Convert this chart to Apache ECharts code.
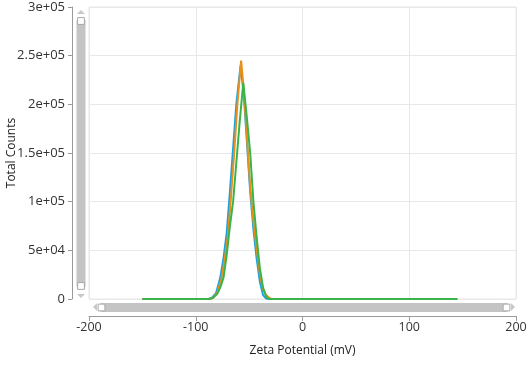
<!DOCTYPE html>
<html>
<head>
<meta charset="utf-8">
<script src="https://cdn.jsdelivr.net/npm/echarts@6/dist/echarts.min.js"></script>
<style>html,body{margin:0;padding:0;background:#fff;}#c{width:530px;height:369px;}</style>
</head>
<body>
<div id="c"></div>
<script>
// Zeta potential (mV) and total counts for three runs
const blueX  = [-150, -88, -85, -81, -77, -74, -71, -68, -65, -62, -58, -55, -52, -49, -46, -43, -40, -37, -34, -32, 145];
const blueY  = [0, 0, 1000, 6000, 22000, 42000, 68000, 110000, 155000, 200000, 240000, 210000, 160000, 110000, 72000, 42000, 18000, 4000, 500, 0, 0];
const orangeX = [-150, -88, -84, -80, -76, -73, -70, -67, -64, -61, -57.5, -55, -52, -49, -46, -43, -40, -37, -34, -31, -29, 145];
const orangeY = [0, 0, 1000, 6000, 20000, 40000, 64000, 105000, 150000, 200000, 245000, 215000, 165000, 115000, 80000, 52000, 26000, 10000, 4000, 1000, 0, 0];
const greenX = [-150, -88, -84, -80, -77, -74, -71, -68, -65, -62, -59, -55.5, -52, -49, -46, -43, -40, -37, -34, -31, 145];
const greenY = [0, 0, 1000, 5000, 12000, 22000, 45000, 75000, 100000, 140000, 180000, 222000, 185000, 150000, 100000, 64000, 32000, 12000, 2000, 0, 0];
const xTicks = [-200, -100, 0, 100, 200];
const yTicks = [0, 50000, 100000, 150000, 200000, 250000, 300000];

const pair = (xs, ys) => xs.map((x, i) => [x, ys[i]]);
function sci(v) {
  if (v === 0) return '0';
  const e = Math.floor(Math.log10(v));
  const m = +(v / Math.pow(10, e)).toFixed(2);
  return m + 'e+' + String(e).padStart(2, '0');
}
const FONT = '"Open Sans", "Noto Sans", sans-serif';
const chart = echarts.init(document.getElementById('c'));
const mk = (name, color, xs, ys) => ({
  name, type: 'line', data: pair(xs, ys), showSymbol: false, symbol: 'none',
  lineStyle: { color, width: 2 }, itemStyle: { color }, animation: false
});
chart.setOption({
  animation: false,
  grid: { left: 89, right: 14, top: 7, bottom: 70, show: true, borderColor: '#e6e6e6', borderWidth: 1,
          containLabel: false, outerBoundsMode: 'none' },
  xAxis: {
    type: 'value', min: xTicks[0], max: xTicks[xTicks.length - 1], interval: 100, offset: 17,
    name: 'Zeta Potential (mV)', nameLocation: 'middle', nameGap: 29, nameMoveOverlap: false,
    nameTextStyle: { color: '#222', fontSize: 12, fontFamily: FONT },
    axisLine: { show: true, onZero: false, lineStyle: { color: '#9a9a9a' } },
    axisTick: { show: true, length: 5, lineStyle: { color: '#9a9a9a' } },
    axisLabel: { color: '#333', fontSize: 12.5, fontFamily: FONT, margin: 5 },
    splitLine: { show: true, lineStyle: { color: '#e8e8e8' } }
  },
  yAxis: {
    type: 'value', min: yTicks[0], max: yTicks[yTicks.length - 1], interval: 50000, offset: 17,
    name: 'Total Counts', nameLocation: 'middle', nameGap: 54, nameRotate: 90, nameMoveOverlap: false,
    nameTextStyle: { color: '#222', fontSize: 12, fontFamily: FONT },
    axisLine: { show: true, onZero: false, lineStyle: { color: '#9a9a9a' } },
    axisTick: { show: true, length: 4, lineStyle: { color: '#9a9a9a' } },
    axisLabel: { color: '#333', fontSize: 13, fontFamily: FONT, margin: 7, formatter: sci },
    splitLine: { show: true, lineStyle: { color: '#e8e8e8' } }
  },
  dataZoom: [
    {
      type: 'slider', xAxisIndex: 0, filterMode: 'none', start: 0, end: 100,
      left: 99, right: 24, bottom: 57, height: 9,
      backgroundColor: 'transparent', borderColor: 'transparent', fillerColor: '#c4c4c4',
      showDataShadow: false, showDetail: false, brushSelect: false, moveHandleSize: 0,
      handleIcon: 'path://M0,0H10V10H0Z', handleSize: '75%',
      handleStyle: { color: '#fff', borderColor: '#a8a8a8', borderWidth: 1 }
    },
    {
      type: 'slider', yAxisIndex: 0, orient: 'vertical', filterMode: 'none', start: 0, end: 100,
      left: 76, width: 9, top: 20, bottom: 82,
      backgroundColor: 'transparent', borderColor: 'transparent', fillerColor: '#c4c4c4',
      showDataShadow: false, showDetail: false, brushSelect: false, moveHandleSize: 0,
      handleIcon: 'path://M0,0H10V10H0Z', handleSize: '75%',
      handleStyle: { color: '#fff', borderColor: '#a8a8a8', borderWidth: 1 }
    }
  ],
  graphic: [
    { type: 'polygon', shape: { points: [[97, 303], [97, 311], [93, 307]] }, style: { fill: '#c8c8c8' } },
    { type: 'polygon', shape: { points: [[511, 303], [511, 311], [515, 307]] }, style: { fill: '#c8c8c8' } },
    { type: 'polygon', shape: { points: [[77, 14], [85, 14], [81, 10]] }, style: { fill: '#c8c8c8' } },
    { type: 'polygon', shape: { points: [[77, 294], [85, 294], [81, 298]] }, style: { fill: '#c8c8c8' } }
  ],
  series: [
    mk('Run 1', '#1f9fe0', blueX, blueY),
    mk('Run 2', '#e8901c', orangeX, orangeY),
    mk('Run 3', '#38b449', greenX, greenY)
  ]
});
</script>
</body>
</html>
